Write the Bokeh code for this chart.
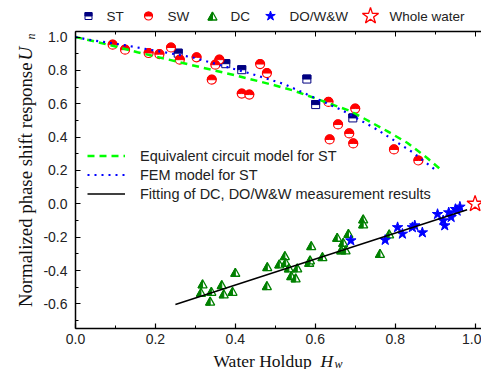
import numpy as np
from bokeh.plotting import figure
from bokeh.models import (Range1d, LinearAxis, SingleIntervalTicker, Legend,
                          LegendItem, PrintfTickFormatter, CustomJSTickFormatter)
from bokeh.layouts import column, row
from bokeh.embed import file_html
from bokeh.resources import INLINE
from bokeh.core.properties import value

# ---------------- data ----------------
st_x = [0.257, 0.376, 0.416, 0.579, 0.601, 0.694]
st_y = [0.903, 0.840, 0.804, 0.748, 0.595, 0.515]

sw_x = [0.093, 0.124, 0.183, 0.210, 0.239, 0.261, 0.303, 0.341, 0.350, 0.360, 0.416,
        0.435, 0.462, 0.479, 0.633, 0.700, 0.657, 0.685, 0.636, 0.695, 0.797, 0.858]
sw_y = [0.954, 0.924, 0.904, 0.897, 0.937, 0.864, 0.878, 0.744, 0.834, 0.864, 0.661,
        0.655, 0.838, 0.784, 0.611, 0.571, 0.476, 0.422, 0.386, 0.362, 0.326, 0.260]

dc_x = [0.314, 0.318, 0.337, 0.340, 0.366, 0.371, 0.393, 0.400, 0.479, 0.480, 0.510,
        0.524, 0.526, 0.534, 0.540, 0.551, 0.555, 0.585, 0.587, 0.590, 0.618, 0.655,
        0.665, 0.670, 0.676, 0.683, 0.720, 0.720, 0.762, 0.785]
dc_y = [-0.530, -0.479, -0.583, -0.524, -0.484, -0.539, -0.524, -0.410, -0.490, -0.376,
        -0.360, -0.310, -0.350, -0.384, -0.430, -0.444, -0.384, -0.350, -0.336, -0.250,
        -0.316, -0.200, -0.276, -0.230, -0.276, -0.177, -0.090, -0.120, -0.297, -0.180]

do_x = [0.689, 0.775, 0.806, 0.818, 0.843, 0.849, 0.868, 0.906, 0.920, 0.924, 0.934,
        0.940, 0.951, 0.955, 0.962]
do_y = [-0.220, -0.217, -0.141, -0.180, -0.141, -0.130, -0.172, -0.062, -0.100, -0.130,
        -0.052, -0.080, -0.032, -0.042, -0.018]

ww_x = [1.0]
ww_y = [0.0]

ecm_x = [0.0, 0.05, 0.10, 0.155, 0.255, 0.397, 0.496, 0.547, 0.689, 0.780, 0.830, 0.880, 0.918]
ecm_y = [1.0, 0.972, 0.943, 0.909, 0.852, 0.772, 0.712, 0.678, 0.555, 0.436, 0.366, 0.275, 0.197]

fem_x = [0.0, 0.030, 0.118, 0.289, 0.439, 0.522, 0.668, 0.755, 0.843, 0.899]
fem_y = [1.0, 0.985, 0.953, 0.880, 0.780, 0.718, 0.560, 0.445, 0.310, 0.207]

fit_x = [0.25, 0.98]
fit_y = [-0.603, -0.035]

labels_top = ["ST", "SW", "DC", "DO/W&W", "Whole water"]
lines_labels = ["Equivalent circuit model for ST", "FEM model for ST",
                "Fitting of DC, DO/W&W measurement results"]
xlabel_parts = ["Water Holdup", "H", "w"]
ylabel_parts = ["Normalized phase shift response", "U", "n"]

# ---------------- style ----------------
C_ST, C_SW, C_DC, C_DO, C_WW = "#000080", "#FF0000", "#008000", "#0000FF", "#FF0000"
SANS = "Liberation Sans"
SERIF = "Liberation Serif"
TXT = "#111111"

X0, X1 = 0.0, 1.016
Y0, Y1 = -0.747, 1.033
FW, FH = 406, 297
KX = FW / (X1 - X0)
KY = FH / (Y1 - Y0)

W_TOTAL, H_TOTAL = 481, 369
TOP_H = 30          # legend strip
LEFT_W = 38         # y-title strip
MAIN_L, MAIN_T, MAIN_B = 37, 1, 21
BOT_H = H_TOTAL - TOP_H - (MAIN_T + FH + MAIN_B)   # x-title strip
FRAME_LEFT = LEFT_W + MAIN_L   # page x of the plot frame's left edge


def strip(w, h, x_start=0):
    f = figure(width=w, height=h, x_range=Range1d(x_start, x_start + w),
               y_range=Range1d(0, h),
               output_backend="svg", toolbar_location=None, min_border=0,
               x_axis_type=None, y_axis_type=None)
    f.xgrid.visible = False
    f.ygrid.visible = False
    f.outline_line_color = None
    return f


def half_square(fig, xs, ys, size, color, ky):
    xs = np.asarray(xs, float); ys = np.asarray(ys, float)
    fig.scatter(xs, ys, marker="square", size=size, fill_color="white",
                line_color=color, line_width=1)
    fig.rect(xs, ys + size / 4.0 / ky, width=size, height=size / 2.0,
             width_units="screen", height_units="screen",
             fill_color=color, line_color=color, line_width=1)


def half_circle(fig, xs, ys, size, color):
    fig.scatter(xs, ys, marker="circle", size=size, fill_color="white",
                line_color=color, line_width=1.2)
    fig.wedge(xs, ys, radius=size / 2.0, radius_units="screen", start_angle=0,
              end_angle=np.pi, fill_color=color, line_color=color, line_width=1)


def half_triangle(fig, xs, ys, w, h, color, kx, ky):
    xs = np.asarray(xs, float); ys = np.asarray(ys, float)
    dx = w / 2.0 / kx; dy = h / 2.0 / ky
    outline_x = [[x - dx, x, x + dx] for x in xs]
    outline_y = [[y - dy, y + dy, y - dy] for y in ys]
    left_x = [[x - dx, x, x] for x in xs]
    left_y = [[y - dy, y + dy, y - dy] for y in ys]
    fig.patches(outline_x, outline_y, fill_color="white", line_color=color, line_width=1.3)
    fig.patches(left_x, left_y, fill_color=color, line_color=color, line_width=1)


# ---------------- main figure ----------------
p = figure(frame_width=FW, frame_height=FH, x_range=Range1d(X0, X1), y_range=Range1d(Y0, Y1),
           output_backend="svg", toolbar_location=None,
           min_border_left=MAIN_L, min_border_right=0, min_border_top=MAIN_T,
           min_border_bottom=MAIN_B)
p.xgrid.visible = False
p.ygrid.visible = False
p.outline_line_color = None

p.xaxis[0].ticker = SingleIntervalTicker(interval=0.2, num_minor_ticks=2)
p.yaxis[0].ticker = SingleIntervalTicker(interval=0.2, num_minor_ticks=2)
for ax in (p.xaxis[0], p.yaxis[0]):
    ax.axis_line_width = 1.5
    ax.axis_line_color = "black"
    ax.major_tick_in = 5
    ax.major_tick_out = 0
    ax.minor_tick_in = 3
    ax.minor_tick_out = 0
    ax.major_tick_line_width = 1.2
    ax.minor_tick_line_width = 1.0
    ax.major_label_text_font = SANS
    ax.major_label_text_font_size = "14px"
    ax.major_label_text_color = "#222222"
    ax.formatter = PrintfTickFormatter(format="%.1f")
p.xaxis[0].major_label_standoff = 5
p.yaxis[0].major_label_standoff = 8

top_ax = LinearAxis(ticker=SingleIntervalTicker(interval=0.2, num_minor_ticks=2),
                    formatter=CustomJSTickFormatter(code="return ''"),
                    major_label_standoff=0,
                    major_tick_in=5, major_tick_out=0, minor_tick_in=3, minor_tick_out=0,
                    axis_line_width=1.5)
p.add_layout(top_ax, "above")

# markers
half_square(p, st_x, st_y, 8, C_ST, KY)
half_circle(p, sw_x, sw_y, 9, C_SW)
half_triangle(p, dc_x, dc_y, 9, 8, C_DC, KX, KY)
p.scatter(do_x, do_y, marker="star", size=11, fill_color=C_DO, line_color=C_DO)
p.scatter(ww_x, ww_y, marker="star", size=17, fill_color="white", line_color=C_WW,
          line_width=1.3)

# lines
r_ecm = p.line(ecm_x, ecm_y, line_color="#00FF00", line_width=2.5, line_dash="7 5")
r_fem = p.line(fem_x, fem_y, line_color="#0000FF", line_width=2.2, line_dash="2 5")
r_fit = p.line(fit_x, fit_y, line_color="black", line_width=1.5)

leg = Legend(items=[LegendItem(label=lines_labels[0], renderers=[r_ecm]),
                    LegendItem(label=lines_labels[1], renderers=[r_fem]),
                    LegendItem(label=lines_labels[2], renderers=[r_fit])],
             location=(7, 120), glyph_width=38, glyph_height=19, label_height=19,
             label_standoff=15, padding=5, spacing=0, margin=0,
             border_line_alpha=0, background_fill_alpha=0,
             label_text_font=SANS, label_text_font_size="14.5px",
             label_text_color="#222222")
p.add_layout(leg)

# ---------------- top legend strip ----------------
top = strip(W_TOTAL, TOP_H)
mk_x = [88, 148, 212, 270, 370]
tx_x = [106, 167, 230, 289, 389]
ly = 14.5
half_square(top, [mk_x[0]], [ly], 7, C_ST, 1.0)
half_circle(top, [mk_x[1]], [ly], 8, C_SW)
half_triangle(top, [mk_x[2]], [ly], 9, 8, C_DC, 1.0, 1.0)
top.scatter([mk_x[3]], [ly], marker="star", size=10, fill_color=C_DO, line_color=C_DO)
top.scatter([mk_x[4]], [ly], marker="star", size=17, fill_color="white", line_color=C_WW,
            line_width=1.3)
top.text(tx_x, [ly] * len(tx_x), text=labels_top, text_font=value(SANS),
         text_font_size="13.5px", text_baseline="middle", text_align="left",
         text_color="#222222")

# ---------------- left strip: y title ----------------
left_h = H_TOTAL - TOP_H
left = strip(LEFT_W, left_h)
left.text([24.5], [307], text=[ylabel_parts[0]], angle=np.pi / 2, text_font=value(SERIF),
          text_font_size="18.8px", text_baseline="middle", text_align="right",
          text_color=TXT)
left.text([24.5], [309], text=[ylabel_parts[1]], angle=np.pi / 2, text_font=value(SERIF),
          text_font_style="italic", text_font_size="19px", text_baseline="middle",
          text_align="left", text_color=TXT)
left.text([30.5], [330], text=[ylabel_parts[2]], angle=np.pi / 2, text_font=value(SERIF),
          text_font_style="italic", text_font_size="12px", text_baseline="middle",
          text_align="left", text_color=TXT)

# ---------------- bottom strip: x title ----------------
# Bokeh aligns this strip's frame with the main frame, so its x range spans the
# main frame's page pixels (FRAME_LEFT .. W_TOTAL).
bot = figure(width=W_TOTAL - LEFT_W, height=BOT_H,
             x_range=Range1d(FRAME_LEFT, FRAME_LEFT + FW), y_range=Range1d(0, BOT_H),
             output_backend="svg", toolbar_location=None, min_border=0,
             x_axis_type=None, y_axis_type=None)
bot.xgrid.visible = False
bot.ygrid.visible = False
bot.outline_line_color = None
bot.text([213], [9], text=[xlabel_parts[0]], text_font=value(SERIF),
         text_font_size="17.5px", text_baseline="middle", text_align="left",
         text_color=TXT)
bot.text([320], [9], text=[xlabel_parts[1]], text_font=value(SERIF),
         text_font_style="italic", text_font_size="17.5px", text_baseline="middle",
         text_align="left", text_color=TXT)
bot.text([334], [6], text=[xlabel_parts[2]], text_font=value(SERIF),
         text_font_style="italic", text_font_size="12px", text_baseline="middle",
         text_align="left", text_color=TXT)

layout = column(top, row(left, column(p, bot, spacing=0), spacing=0), spacing=0)
open("out.html", "w").write(file_html(layout, INLINE))
